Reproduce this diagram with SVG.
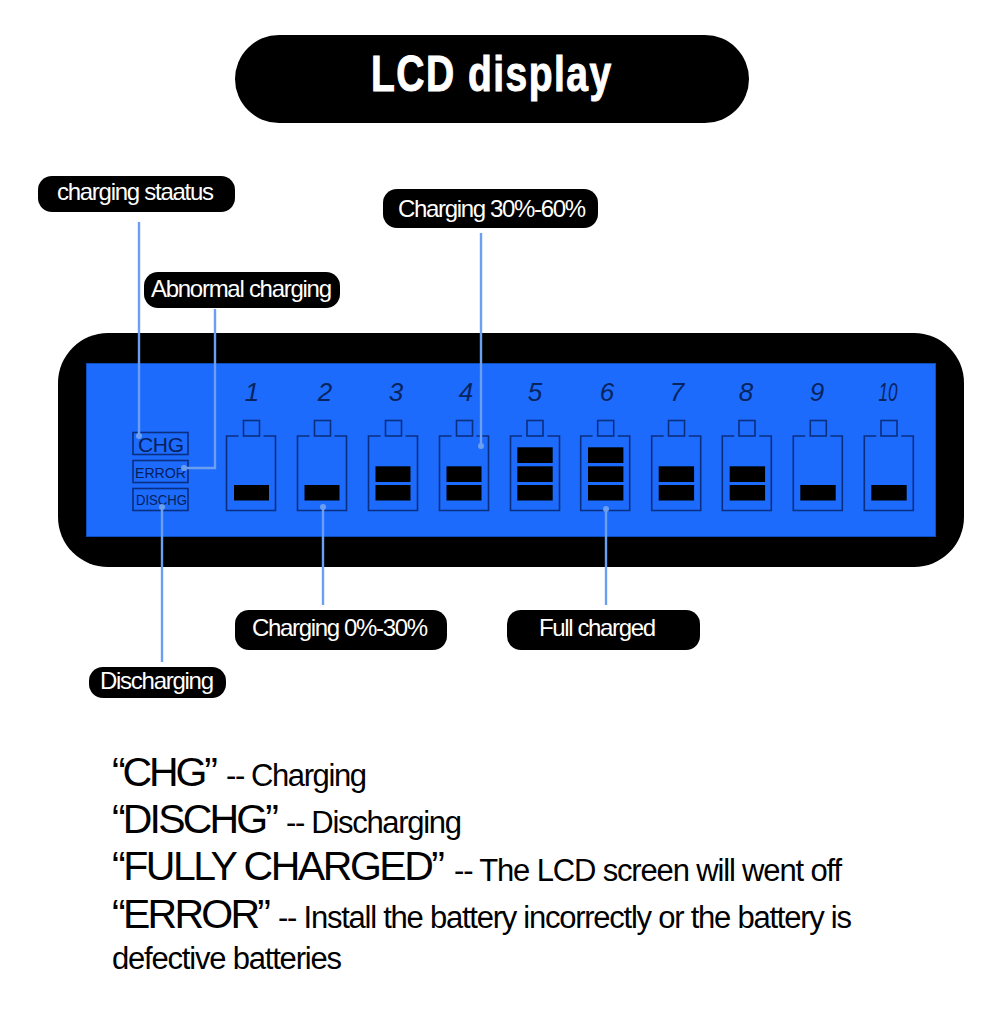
<svg xmlns="http://www.w3.org/2000/svg" width="1000" height="1022" viewBox="0 0 1000 1022">
<style>
text{font-family:"Liberation Sans",Arial,sans-serif}
.lab{fill:#fff;font-size:24px}
.pill{fill:#000}
.ln{fill:none;stroke:#6d9ff0;stroke-width:2.4}
.dot{fill:#6d9ff0}
.o{fill:none;stroke:#0a2f80;stroke-width:1.6}
.bar{fill:#000}
.num{fill:#08245f;font-size:26px;font-style:italic;text-anchor:middle}
.b{fill:#000;font-size:41px}
.s{fill:#000;font-size:31px}
.st{fill:#05205c}
</style>
<rect width="1000" height="1022" fill="#fff"/>
<g id="title"><rect class="pill" x="235" y="35" width="514" height="88" rx="44"/><text transform="translate(371 91) scale(.78 1)" font-size="50" font-weight="700" fill="#fff" stroke="#fff" stroke-width="1" textLength="308" lengthAdjust="spacing">LCD display</text></g>
<g id="lcd"><rect x="58" y="333" width="906" height="234" rx="50" fill="#000"/><rect x="86.500" y="363.500" width="849" height="173" fill="#1c6bfd" stroke="#0f4fc0"/></g>
<g id="status">
<rect class="o" x="133" y="432.500" width="55" height="22"/><text class="st" x="138" y="451.500" font-size="21" textLength="46" lengthAdjust="spacing">CHG</text>
<rect class="o" x="133" y="460.500" width="55" height="22"/><text class="st" x="135" y="478" font-size="15.500" textLength="51" lengthAdjust="spacingAndGlyphs">ERROR</text>
<rect class="o" x="133" y="488.500" width="55" height="22"/><text class="st" x="136" y="505" font-size="14" textLength="51" lengthAdjust="spacingAndGlyphs">DISCHG</text>
</g>
<g id="cells">
<g id="cell1"><text class="num" x="252" y="401">1</text><rect class="o" x="243.500" y="420.500" width="16" height="15.500"/><path class="o" d="M238.500 436h-12v74.500h49v-74.500h-12"/><rect class="bar" x="234" y="485" width="35" height="15.500"/></g>
<g id="cell2"><text class="num" x="325" y="401">2</text><rect class="o" x="314.500" y="420.500" width="16" height="15.500"/><path class="o" d="M309.500 436h-12v74.500h49v-74.500h-12"/><rect class="bar" x="304.500" y="485" width="35" height="15.500"/></g>
<g id="cell3"><text class="num" x="396" y="401">3</text><rect class="o" x="385.500" y="420.500" width="16" height="15.500"/><path class="o" d="M380.500 436h-12v74.500h49v-74.500h-12"/><rect class="bar" x="375.500" y="485" width="35" height="15.500"/><rect class="bar" x="375.500" y="466.300" width="35" height="15.700"/></g>
<g id="cell4"><text class="num" x="466" y="401">4</text><rect class="o" x="456.500" y="420.500" width="16" height="15.500"/><path class="o" d="M451.500 436h-12v74.500h49v-74.500h-12"/><rect class="bar" x="446.500" y="485" width="35" height="15.500"/><rect class="bar" x="446.500" y="466.300" width="35" height="15.700"/></g>
<g id="cell5"><text class="num" x="535" y="401">5</text><rect class="o" x="527" y="420.500" width="16" height="15.500"/><path class="o" d="M522 436h-11.500v74.500h49v-74.500h-12"/><rect class="bar" x="517.300" y="485" width="35.400" height="15.500"/><rect class="bar" x="517.300" y="466.300" width="35.400" height="15.700"/><rect class="bar" x="517.300" y="447.300" width="35.400" height="15.700"/></g>
<g id="cell6"><text class="num" x="607" y="401">6</text><rect class="o" x="597.700" y="420.500" width="16" height="15.500"/><path class="o" d="M592.700 436h-12v74.500h49v-74.500h-12"/><rect class="bar" x="588" y="485" width="35.400" height="15.500"/><rect class="bar" x="588" y="466.300" width="35.400" height="15.700"/><rect class="bar" x="588" y="447.300" width="35.400" height="15.700"/></g>
<g id="cell7"><text class="num" x="677" y="401">7</text><rect class="o" x="668.500" y="420.500" width="16" height="15.500"/><path class="o" d="M663.700 436h-12v74.500h49v-74.500h-12"/><rect class="bar" x="658.700" y="485" width="35.400" height="15.500"/><rect class="bar" x="658.700" y="466.300" width="35.400" height="15.700"/></g>
<g id="cell8"><text class="num" x="746" y="401">8</text><rect class="o" x="739" y="420.500" width="16" height="15.500"/><path class="o" d="M734.300 436h-12v74.500h49v-74.500h-12"/><rect class="bar" x="729.700" y="485" width="35.400" height="15.500"/><rect class="bar" x="729.700" y="466.300" width="35.400" height="15.700"/></g>
<g id="cell9"><text class="num" x="817" y="401">9</text><rect class="o" x="810.300" y="420.500" width="16" height="15.500"/><path class="o" d="M805.300 436h-12v74.500h49v-74.500h-12"/><rect class="bar" x="800.300" y="485" width="35.400" height="15.500"/></g>
<g id="cell10"><text class="num" x="888" y="401" textLength="19" lengthAdjust="spacingAndGlyphs">10</text><rect class="o" x="881" y="420.500" width="16" height="15.500"/><path class="o" d="M876.300 436h-12v74.500h49v-74.500h-12"/><rect class="bar" x="871.300" y="485" width="35.400" height="15.500"/></g>
</g>
<g id="connectors">
<path class="ln" d="M139 222V436"/><circle class="dot" cx="139" cy="436" r="3"/>
<path class="ln" d="M215 309V468H184"/><circle class="dot" cx="184" cy="468" r="3"/>
<path class="ln" d="M481 233V446"/><circle class="dot" cx="481" cy="446" r="3"/>
<path class="ln" d="M162 507V662"/><circle class="dot" cx="162" cy="507" r="3"/>
<path class="ln" d="M323 507V605"/><circle class="dot" cx="323" cy="507" r="3"/>
<path class="ln" d="M606 509V605"/><circle class="dot" cx="606" cy="509" r="3"/>
</g>
<g id="l1"><rect class="pill" x="38" y="176" width="197" height="36" rx="14"/><text class="lab" x="57" y="200" textLength="157">charging staatus</text></g>
<g id="l2"><rect class="pill" x="144" y="272" width="196" height="36" rx="14"/><text class="lab" x="151" y="297" textLength="181">Abnormal charging</text></g>
<g id="l3"><rect class="pill" x="383" y="189" width="215" height="39" rx="14"/><text class="lab" x="398" y="217" textLength="188">Charging 30%-60%</text></g>
<g id="l4"><rect class="pill" x="235" y="610" width="212" height="40" rx="14"/><text class="lab" x="252" y="636" textLength="176">Charging 0%-30%</text></g>
<g id="l5"><rect class="pill" x="507" y="610" width="193" height="40" rx="14"/><text class="lab" x="539" y="636" textLength="117">Full charged</text></g>
<g id="l6"><rect class="pill" x="89" y="667" width="137" height="31" rx="14"/><text class="lab" x="100" y="689" textLength="114">Discharging</text></g>
<g id="notes">
<text class="b" x="112" y="786" textLength="106">“CHG”</text><text class="s" x="226" y="786" textLength="141">-- Charging</text>
<text class="b" x="112" y="833" textLength="167">“DISCHG”</text><text class="s" x="286" y="833" textLength="176">-- Discharging</text>
<text class="b" x="112" y="880" textLength="333">“FULLY CHARGED”</text><text class="s" x="454" y="881" textLength="388">-- The LCD screen will went off</text>
<text class="b" x="112" y="928" textLength="159">“ERROR”</text><text class="s" x="278" y="928" textLength="574">-- Install the battery incorrectly or the battery is</text>
<text class="s" x="112" y="969" textLength="230">defective batteries</text>
</g>
</svg>
